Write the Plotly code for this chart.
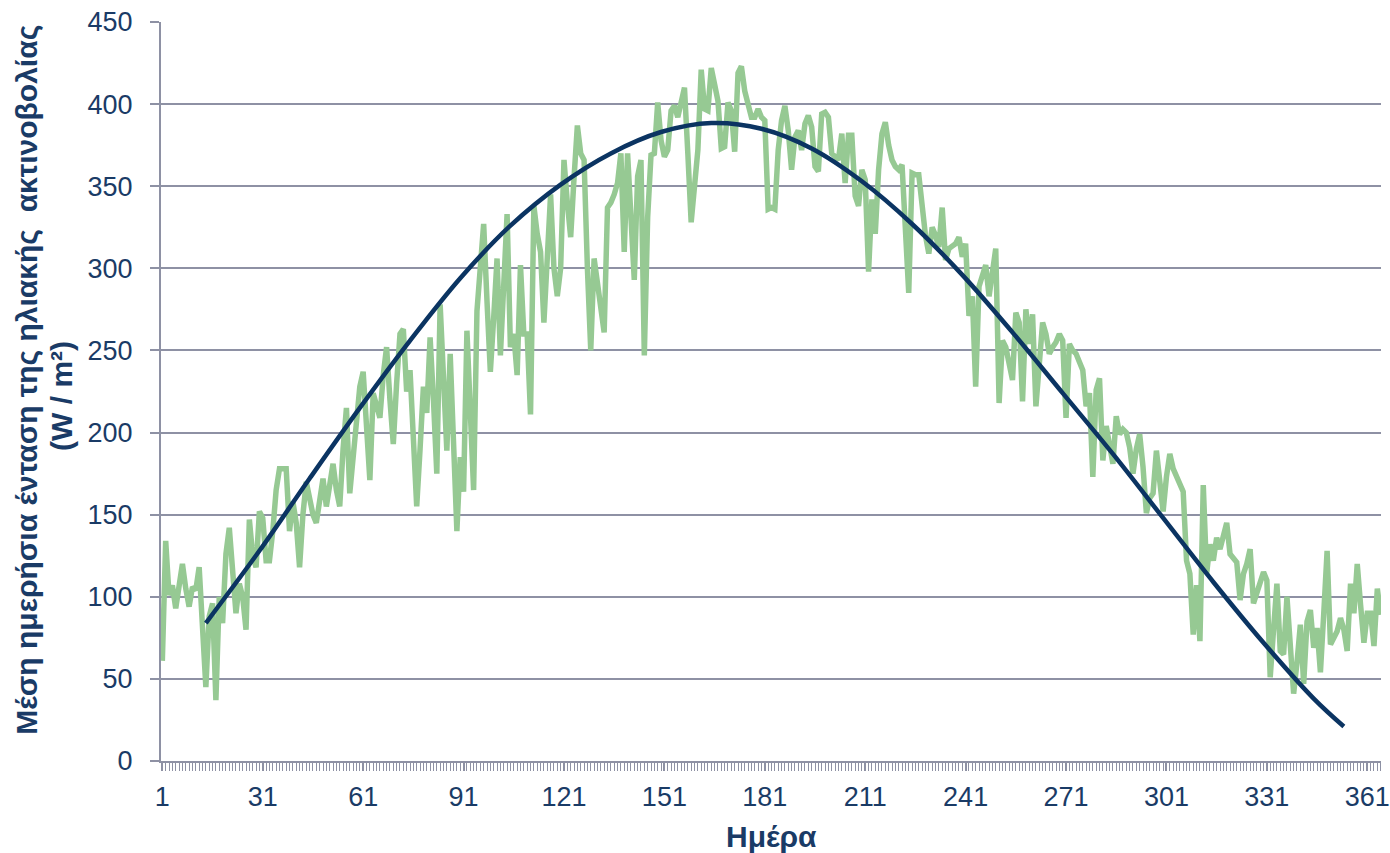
import plotly.graph_objects as go

days = list(range(1, 366))

radiation = [
    61, 134, 101, 107, 93, 105, 120, 105, 94, 106,
    104, 118, 85, 45, 88, 96, 37, 100, 84, 126,
    142, 115, 90, 108, 100, 80, 147, 125, 118, 152,
    148, 122, 122, 140, 165, 178, 178, 178, 140, 158,
    145, 118, 150, 170, 160, 150, 145, 158, 172, 155,
    168, 181, 165, 155, 190, 215, 163, 185, 205, 228,
    237, 205, 171, 224, 215, 209, 235, 252, 220, 193,
    230, 260, 263, 225, 238, 200, 155, 190, 228, 212,
    258, 220, 175, 278, 235, 189, 248, 195, 140, 185,
    164, 262, 210, 165, 274, 300, 327, 280, 237, 270,
    306, 247, 290, 333, 252, 260, 235, 302, 260, 260,
    211, 338, 321, 310, 267, 300, 345, 300, 283, 300,
    366, 340, 319, 355, 387, 370, 366, 300, 250, 306,
    291, 275, 261, 337, 340, 345, 352, 370, 310, 370,
    333, 293, 356, 366, 247, 331, 369, 370, 401, 378,
    368, 372, 396, 399, 392, 400, 410, 370, 328, 350,
    372, 421, 397, 396, 422, 412, 402, 373, 374, 401,
    396, 371, 419, 423, 408, 400, 392, 392, 397, 392,
    390, 336, 337, 336, 372, 390, 399, 384, 360, 380,
    384, 372, 388, 393, 386, 362, 359, 394, 395, 392,
    370, 368, 366, 382, 352, 381, 381, 344, 338, 360,
    354, 298, 342, 321, 360, 382, 389, 375, 366, 362,
    360, 363, 320, 285, 358, 357, 357, 335, 320, 309,
    325, 320, 313, 337, 305, 312, 314, 315, 319, 307,
    315, 271, 283, 228, 289, 295, 302, 283, 296, 312,
    218, 256, 252, 240, 232, 273, 267, 219, 275, 254,
    272, 216, 240, 267, 260, 248, 252, 255, 260, 256,
    209, 254, 250, 248, 243, 238, 216, 224, 173, 226,
    233, 183, 204, 190, 181, 210, 199, 202, 200, 191,
    175, 190, 199, 179, 151, 160, 163, 189, 170, 152,
    173, 187, 178, 173, 168, 164, 122, 114, 77, 107,
    73, 168, 114, 132, 122, 136, 129, 137, 145, 126,
    123, 121, 98, 114, 120, 129, 96, 102, 108, 115,
    110, 51, 80, 108, 67, 65, 100, 70, 41, 60,
    83, 47, 85, 92, 69, 81, 54, 90, 128, 71,
    75, 79, 87, 80, 67, 108, 90, 120, 95, 72,
    90, 90, 70, 105, 89,
]

trend_days = [14, 30, 45, 60, 75, 90, 105, 120, 135, 150, 165, 180,
              195, 210, 225, 240, 255, 270, 285, 300, 315, 330, 345, 354]
trend_values = [84, 128, 172, 215, 256, 294, 326, 351, 370, 383, 388.5, 385,
                373, 353, 327, 296, 261, 224, 187, 148, 109, 72, 38, 21]

x_tick_values = list(range(1, 366, 30))
x_tick_labels = [str(v) for v in x_tick_values]

y_title_line1 = "Μέση ημερήσια ένταση της ηλιακής  ακτινοβολίας"
y_title_line2 = "(W / m²)"
x_title = "Ημέρα"

TEXT = "#1A3B66"
GRID = "#8E91A4"
FONT = "Liberation Sans, Arial, sans-serif"

fig = go.Figure()
fig.add_trace(go.Scatter(
    x=days, y=radiation, mode="lines",
    line=dict(color="#96C993", width=5.5),
    showlegend=False, hoverinfo="skip",
))
fig.add_trace(go.Scatter(
    x=trend_days, y=trend_values, mode="lines",
    line=dict(color="#0B3462", width=4.5, shape="spline", smoothing=1.0),
    showlegend=False, hoverinfo="skip",
))

fig.update_layout(
    width=1390, height=853, autosize=False,
    margin=dict(l=161, r=9, t=22, b=92, autoexpand=False),
    paper_bgcolor="white", plot_bgcolor="white",
    font=dict(family=FONT, color=TEXT, size=26),
    xaxis=dict(
        range=[0.6, 365.1],
        tickmode="array", tickvals=x_tick_values, ticktext=x_tick_labels,
        ticks="outside", ticklen=8, tickwidth=1.5, tickcolor=GRID,
        minor=dict(dtick=1, tick0=1, ticks="outside", ticklen=8,
                   tickwidth=1, tickcolor=GRID, showgrid=False),
        showline=True, linecolor=GRID, linewidth=2,
        showgrid=False, zeroline=False, automargin=False,
        tickfont=dict(size=27, color=TEXT, family=FONT),
        ticklabelstandoff=3,
    ),
    yaxis=dict(
        range=[0, 450], dtick=50, tick0=0,
        ticks="outside", ticklen=9, tickwidth=1.5, tickcolor=GRID,
        showline=True, linecolor=GRID, linewidth=2,
        showgrid=True, gridcolor=GRID, gridwidth=1.5,
        zeroline=False, automargin=False,
        tickfont=dict(size=27, color=TEXT, family=FONT),
        ticklabelstandoff=12,
    ),
    annotations=[
        dict(text="<b>" + y_title_line1 + "</b>", xref="paper", yref="paper",
             x=0, xshift=-134, y=0.516, xanchor="center", yanchor="middle",
             textangle=-90, showarrow=False,
             font=dict(size=30, color=TEXT, family=FONT)),
        dict(text="<b>" + y_title_line2 + "</b>", xref="paper", yref="paper",
             x=0, xshift=-99, y=0.494, xanchor="center", yanchor="middle",
             textangle=-90, showarrow=False,
             font=dict(size=30, color=TEXT, family=FONT)),
        dict(text="<b>" + x_title + "</b>", xref="paper", yref="paper",
             x=0.5, y=0, yshift=-75, xanchor="center", yanchor="middle",
             showarrow=False, font=dict(size=30, color=TEXT, family=FONT)),
    ],
)

fig.write_html("out.html",
               config={"displayModeBar": False, "responsive": False},
               post_script="document.body.style.margin='0';document.body.style.overflow='hidden';")
